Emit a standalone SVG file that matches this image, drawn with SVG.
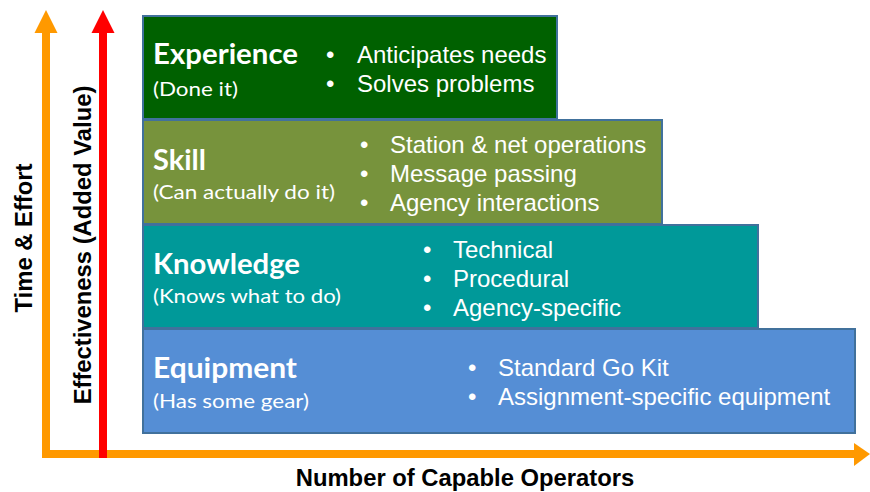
<svg xmlns="http://www.w3.org/2000/svg" width="870" height="492" viewBox="0 0 870 492">
<style>
.box{stroke:#41719c;stroke-width:2}
.h{font-family:Lato,"Open Sans","Noto Sans",sans-serif;font-weight:bold;font-size:28px;fill:#fff}
.s{font-family:Lato,"Open Sans","Noto Sans",sans-serif;font-size:20px;fill:#fff}
.b{font-family:"Liberation Sans",Arial,sans-serif;font-size:24px;fill:#fff}
.ax{font-family:"Liberation Sans",Arial,sans-serif;font-weight:bold;font-size:23.8px;fill:#000}
</style>
<rect width="870" height="492" fill="#fff"/>
<g id="connectors">
  <g id="axis-time" fill="#ff9900">
    <rect x="42" y="32" width="8" height="425"/>
    <polygon points="46,10 57.5,33 34.5,33"/>
    <rect x="42" y="450" width="814" height="8"/>
    <polygon points="870,454 854,443 854,466"/>
  </g>
  <g id="axis-value" fill="#ff0000">
    <rect x="99" y="32" width="8" height="426"/>
    <polygon points="103,10 114.5,33 91.5,33"/>
  </g>
</g>
<g id="equipment">
  <rect class="box" x="143" y="329" width="712" height="104" fill="#558ed5"/>
  <text class="h" x="153" y="378" textLength="144" lengthAdjust="spacingAndGlyphs">Equipment</text>
  <text class="s" x="153" y="408" textLength="156" lengthAdjust="spacingAndGlyphs">(Has some gear)</text>
  <text class="b" x="468" y="376">•</text>
  <text class="b" x="498" y="376">Standard Go Kit</text>
  <text class="b" x="468" y="405">•</text>
  <text class="b" x="498" y="405">Assignment-specific equipment</text>
</g>
<g id="knowledge">
  <rect class="box" x="143" y="225" width="615" height="103" fill="#009999"/>
  <text class="h" x="153" y="274" textLength="147" lengthAdjust="spacingAndGlyphs">Knowledge</text>
  <text class="s" x="153" y="303" textLength="188" lengthAdjust="spacingAndGlyphs">(Knows what to do)</text>
  <text class="b" x="423" y="258">•</text>
  <text class="b" x="453" y="258">Technical</text>
  <text class="b" x="423" y="287">•</text>
  <text class="b" x="453" y="287">Procedural</text>
  <text class="b" x="423" y="316">•</text>
  <text class="b" x="453" y="316">Agency-specific</text>
</g>
<g id="skill">
  <rect class="box" x="143" y="120" width="519" height="104" fill="#77933c"/>
  <text class="h" x="153" y="170" textLength="53" lengthAdjust="spacingAndGlyphs">Skill</text>
  <text class="s" x="153" y="199" textLength="182" lengthAdjust="spacingAndGlyphs">(Can actually do it)</text>
  <text class="b" x="360" y="153">•</text>
  <text class="b" x="390" y="153">Station &amp; net operations</text>
  <text class="b" x="360" y="182">•</text>
  <text class="b" x="390" y="182">Message passing</text>
  <text class="b" x="360" y="211">•</text>
  <text class="b" x="390" y="211">Agency interactions</text>
</g>
<g id="experience">
  <rect class="box" x="143" y="16" width="414" height="103" fill="#006100"/>
  <text class="h" x="153" y="64" textLength="145" lengthAdjust="spacingAndGlyphs">Experience</text>
  <text class="s" x="153" y="96" textLength="85" lengthAdjust="spacingAndGlyphs">(Done it)</text>
  <text class="b" x="326" y="63">•</text>
  <text class="b" x="357" y="63">Anticipates needs</text>
  <text class="b" x="326" y="92">•</text>
  <text class="b" x="357" y="92">Solves problems</text>
</g>
<g id="labels">
  <text class="ax" transform="translate(32,238) rotate(-90)" text-anchor="middle">Time &amp; Effort</text>
  <text class="ax" transform="translate(91,245) rotate(-90)" text-anchor="middle">Effectiveness (Added Value)</text>
  <text class="ax" x="465" y="486" text-anchor="middle">Number of Capable Operators</text>
</g>
</svg>
